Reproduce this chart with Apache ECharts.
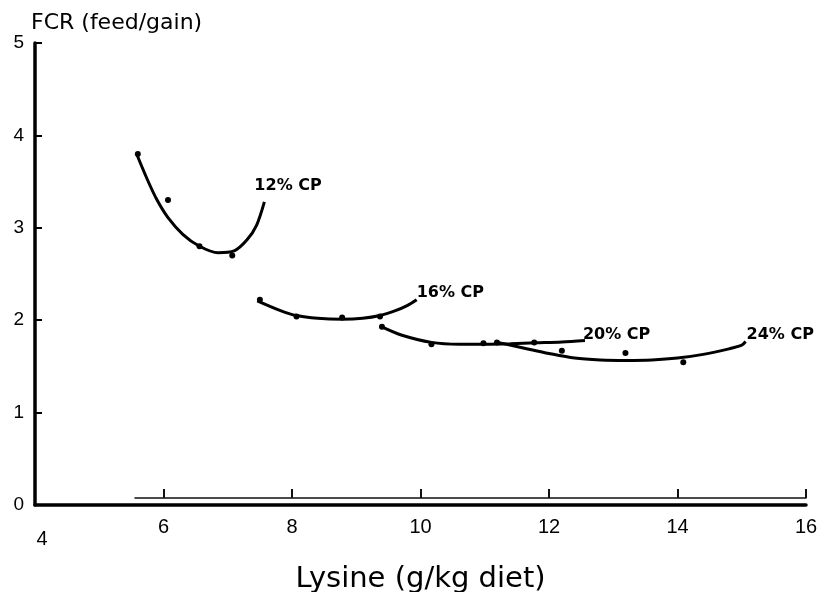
<!DOCTYPE html>
<html>
<head>
<meta charset="utf-8">
<script src="https://cdn.jsdelivr.net/npm/echarts@6/dist/echarts.min.js"></script>
<style>
	html, body { margin: 0; padding: 0; background: #fff; }
	#chart { width: 821px; height: 592px; }
</style>
</head>
<body>
<div id="chart"></div>
<script>
	// measured points (lysine g/kg, FCR)
	var lys12 = [5.6, 6.07, 6.56, 7.07];
	var fcr12 = [3.8, 3.3, 2.8, 2.7];
	var lys16 = [7.5, 8.07, 8.78, 9.37];
	var fcr16 = [2.22, 2.04, 2.03, 2.04];
	var lys20 = [9.4, 10.17, 10.98, 11.77];
	var fcr20 = [1.93, 1.74, 1.75, 1.76];
	var lys24 = [11.19, 12.2, 13.19, 14.09];
	var fcr24 = [1.76, 1.67, 1.645, 1.545];

	// fitted curves
	var fitX12 = [5.59, 5.75, 5.9, 6.07, 6.3, 6.56, 6.85, 7.1, 7.3, 7.45, 7.57];
	var fitY12 = [3.785, 3.52, 3.3, 3.11, 2.93, 2.8, 2.73, 2.75, 2.87, 3.03, 3.28];
	var fitX16 = [7.46, 7.8, 8.07, 8.4, 8.78, 9.1, 9.37, 9.6, 9.8, 9.94];
	var fitY16 = [2.21, 2.11, 2.05, 2.02, 2.01, 2.02, 2.05, 2.1, 2.16, 2.22];
	var fitX20 = [9.39, 9.7, 10.17, 10.6, 11.0, 11.4, 11.8, 12.2, 12.56];
	var fitY20 = [1.93, 1.84, 1.76, 1.74, 1.74, 1.745, 1.755, 1.765, 1.78];
	var fitX24 = [11.2, 11.6, 12.0, 12.4, 12.8, 13.2, 13.6, 14.0, 14.4, 14.8, 15.0, 15.06];
	var fitY24 = [1.76, 1.7, 1.64, 1.59, 1.57, 1.565, 1.57, 1.59, 1.63, 1.69, 1.73, 1.77];

	var cpNames = ['12% CP', '16% CP', '20% CP', '24% CP'];
	var labelOffsets = [[-18, -16], [-8, -7], [-10, -6], [-7, -7]];

	function zip(a, b) {
		var out = [];
		for (var i = 0; i < a.length; i++) out.push([a[i], b[i]]);
		return out;
	}

	var dots = [zip(lys12, fcr12), zip(lys16, fcr16), zip(lys20, fcr20), zip(lys24, fcr24)];
	var fits = [zip(fitX12, fitY12), zip(fitX16, fitY16), zip(fitX20, fitY20), zip(fitX24, fitY24)];

	var series = [];
	for (var k = 0; k < 4; k++) {
		series.push({
			name: cpNames[k],
			type: 'line',
			smooth: 0.3,
			showSymbol: false,
			silent: true,
			lineStyle: { color: '#000', width: 3 },
			endLabel: {
				show: true,
				formatter: cpNames[k],
				offset: labelOffsets[k],
				color: '#000',
				fontFamily: 'DejaVu Sans',
				fontWeight: 'bold',
				fontSize: 16
			},
			data: fits[k],
			z: 3
		});
		series.push({
			type: 'scatter',
			symbol: 'circle',
			symbolSize: 6,
			itemStyle: { color: '#000', opacity: 1 },
			data: dots[k],
			z: 4
		});
	}

	var myChart = echarts.init(document.getElementById('chart'));
	var option = {
		backgroundColor: '#fff',
		animation: false,
		grid: [
			{ left: 35, right: 15, top: 43, bottom: 87, outerBoundsMode: 'none' },
			// ticks of the thin line (tick at 4 hides under the y axis)
			{ left: 35, right: 15, top: 43, bottom: 94, outerBoundsMode: 'none' },
			// the thin line itself, starting near 5.5
			{ left: 135, right: 15, top: 43, bottom: 94, outerBoundsMode: 'none' }
		],
		xAxis: [
			{
				type: 'value',
				gridIndex: 0,
				min: 4,
				max: 16,
				interval: 2,
				name: 'Lysine (g/kg diet)',
				nameLocation: 'middle',
				nameGap: 60,
				nameTextStyle: { fontFamily: 'DejaVu Sans', fontSize: 29, color: '#000' },
				axisLine: { lineStyle: { color: '#000', width: 3.5 } },
				axisTick: { show: false },
				splitLine: { show: false },
				axisLabel: {
					margin: 12,
					color: '#000',
					fontFamily: 'Liberation Sans',
					fontSize: 20,
					formatter: function (v) { return v === 4 ? '{low|4}' : v; },
					rich: { low: { fontFamily: 'Liberation Sans', fontSize: 20, color: '#000', padding: [12, 0, 0, 14] } }
				}
			},
			{
				type: 'value',
				gridIndex: 1,
				min: 4,
				max: 16,
				interval: 2,
				axisLine: { show: false },
				axisTick: { show: true, inside: true, length: 9, lineStyle: { color: '#111', width: 2 } },
				axisLabel: { show: false },
				splitLine: { show: false }
			},
			{
				type: 'value',
				gridIndex: 2,
				min: 5.55,
				max: 16,
				axisLine: { lineStyle: { color: '#111', width: 1.5 } },
				axisTick: { show: false },
				axisLabel: { show: false },
				splitLine: { show: false }
			}
		],
		yAxis: [
			{
				type: 'value',
				gridIndex: 0,
				min: 0,
				max: 5,
				interval: 1,
				name: 'FCR (feed/gain)',
				nameLocation: 'end',
				nameGap: 9,
				nameTextStyle: { fontFamily: 'DejaVu Sans', fontSize: 22, color: '#000', align: 'left', padding: [0, 0, 0, -4] },
				axisLine: { lineStyle: { color: '#000', width: 3.5 } },
				axisTick: { inside: true, length: 7, lineStyle: { color: '#000', width: 2 } },
				splitLine: { show: false },
				axisLabel: { margin: 11, color: '#000', fontFamily: 'Liberation Sans', fontSize: 19 },
				z: 5
			},
			{ type: 'value', gridIndex: 1, min: 0, max: 5, show: false },
			{ type: 'value', gridIndex: 2, min: 0, max: 5, show: false }
		],
		series: series
	};
	myChart.setOption(option);
</script>
</body>
</html>
